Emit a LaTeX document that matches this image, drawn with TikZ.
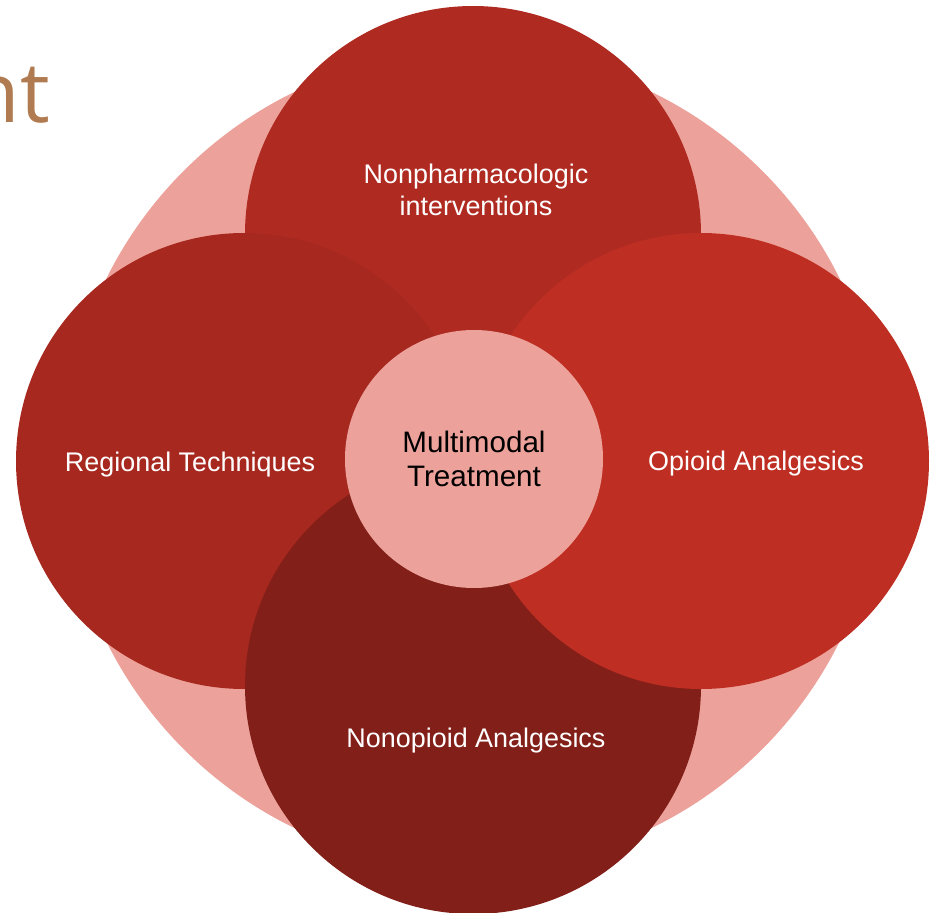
\documentclass[tikz,border=0pt]{standalone}
\usepackage{fontspec}
\setmainfont{Liberation Sans}
\newfontfamily\headfont{Open Sans}
\usetikzlibrary{positioning}

\definecolor{ringpink}{HTML}{ECA29A}
\definecolor{topred}{HTML}{AF2B22}
\definecolor{leftred}{HTML}{A6281F}
\definecolor{bottomred}{HTML}{821F18}
\definecolor{rightred}{HTML}{BE2E22}
\definecolor{headbrown}{HTML}{B07B50}

\tikzset{
  petal/.style={circle, inner sep=0pt, minimum size=342pt},
  petaltext/.style={text=white, align=center, font=\fontsize{20.2}{24}\selectfont},
}

\begin{document}
\begin{tikzpicture}[x=0.75pt, y=-0.75pt]
\useasboundingbox (0,0) rectangle (936,913);

% heading, cut at the left edge
\node[anchor=base east, inner sep=0pt, text=headbrown, font=\headfont\fontsize{63}{70}\selectfont] (head) at (50,123) {nt};

% pink ring behind everything
\node[circle, fill=ringpink, inner sep=0pt, minimum size=613.5pt] (ring) at (473,460) {};

% the four petals
\node[petal, fill=topred]    (nonpharm) at (473,234) {};
\node[petal, fill=leftred]   (regional) at (244,461) {};
\node[petal, fill=bottomred] (nonopioid) at (473,686) {};
\node[petal, fill=rightred]  (opioid)   at (701,461) {};

% middle
\node[circle, fill=ringpink, inner sep=0pt, minimum size=193.5pt, align=center,
      font=\fontsize{22.2}{26}\selectfont] (multi) at (474,459) {Multimodal\\Treatment};

% petal labels
\node[petaltext] (nonpharmtxt)  at (476,190) {Nonpharmacologic\\interventions};
\node[petaltext] (regionaltxt)  at (190,465) {Regional Techniques};
\node[petaltext] (opioidtxt)    at (756,464) {Opioid Analgesics};
\node[petaltext] (nonopioidtxt) at (476,741) {Nonopioid Analgesics};

\end{tikzpicture}
\end{document}
